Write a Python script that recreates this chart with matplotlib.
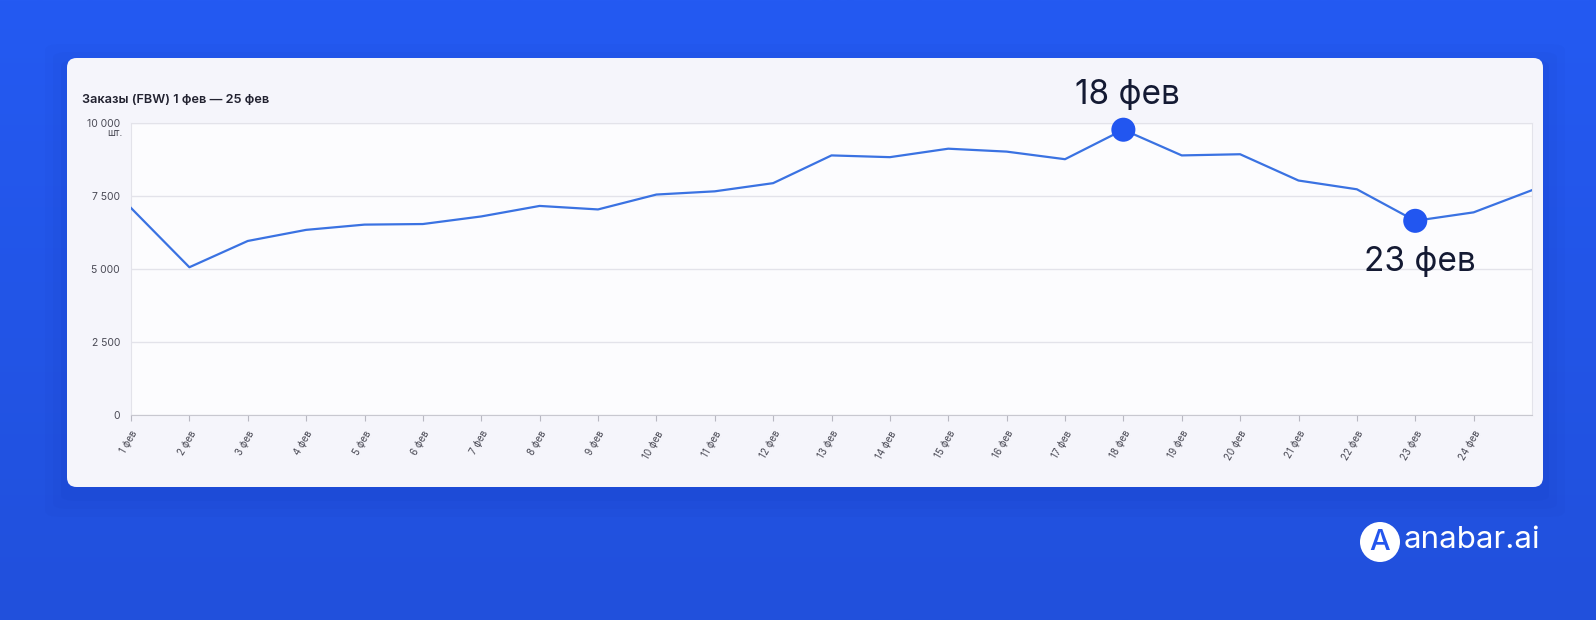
import numpy as np
import matplotlib
matplotlib.use("Agg")
import matplotlib.pyplot as plt
from matplotlib.patches import FancyBboxPatch, Ellipse
from matplotlib.colors import LinearSegmentedColormap

plt.rcParams['font.family'] = ['Inter', 'DejaVu Sans']

# ---- data ----
days = [f"{d} фев" for d in range(1, 26)]
orders = [7090, 5060, 5960, 6340, 6520, 6540, 6800, 7160, 7040, 7550,
          7660, 7940, 8890, 8830, 9120, 9020, 8760, 9770, 8890, 8930,
          8030, 7730, 6650, 6940, 7700]
yticks = [0, 2500, 5000, 7500, 10000]
ytick_labels = ["0", "2 500", "5 000", "7 500", "10 000"]
title = "Заказы (FBW) 1 фев — 25 фев"
highlights = ["18 фев", "23 фев"]

W, H = 1596, 620
fig = plt.figure(figsize=(W / 100, H / 100), dpi=100)

# background gradient
bg = fig.add_axes([0, 0, 1, 1])
bg.set_axis_off()
grad = np.linspace(0, 1, 256).reshape(-1, 1)
cmap = LinearSegmentedColormap.from_list("bg", ["#245AF2", "#2150DC"])
bg.imshow(grad, aspect='auto', cmap=cmap, extent=[0, 1, 0, 1], origin='upper')
bg.set_xlim(0, 1)
bg.set_ylim(0, 1)


def fx(px):
    return px / W


def fy(py):
    return 1 - py / H


# card shadow + card
for i, a in enumerate([0.05, 0.04, 0.03]):
    pad = 6 + i * 8
    sh = FancyBboxPatch((fx(67 - pad), fy(487 + pad + 8)), fx(1543 - 67 + 2 * pad), (487 - 58 + 2 * pad) / H,
                        boxstyle="round,pad=0,rounding_size=0.01", transform=bg.transAxes,
                        facecolor="#0A2A9A", edgecolor="none", alpha=a, zorder=1)
    bg.add_patch(sh)
card = FancyBboxPatch((fx(67), fy(487)), fx(1543 - 67), (487 - 58) / H,
                      boxstyle="round,pad=0,rounding_size=0.006", transform=bg.transAxes,
                      facecolor="#F5F5FB", edgecolor="none", zorder=2, mutation_aspect=W / H)
bg.add_patch(card)

# title
fig.text(fx(82), fy(100), title, fontsize=9.2, fontweight='semibold', color="#222230",
         ha='left', va='center')

# logo
bg.add_patch(Ellipse((fx(1380), fy(542)), width=40 / W, height=40 / H, transform=bg.transAxes,
                     facecolor='white', edgecolor='none', zorder=3))
fig.text(fx(1380), fy(543), "A", fontsize=21, color="#2456EE", ha='center', va='center',
         fontweight='medium')
fig.text(fx(1404), fy(540), "anabar.ai", fontsize=22.5, color='white', ha='left', va='center',
         fontweight='normal')

# main axes
L, R, T, B = 131, 1532, 123, 415
ax = fig.add_axes([fx(L), 1 - B / H, (R - L) / W, (B - T) / H])
ax.set_facecolor("#FCFCFE")
x = np.arange(len(days))
ax.plot(x, orders, color="#3A72E2", lw=1.6, zorder=3, solid_joinstyle='round')
ax.set_xlim(0, len(days) - 1)
ax.set_ylim(0, 10000)
ax.set_yticks(yticks)
ax.set_yticklabels(ytick_labels)
ax.yaxis.grid(True, color="#E3E3EA", lw=1)
ax.set_axisbelow(True)
ax.tick_params(axis='y', length=0, labelsize=7.5, labelcolor="#4A4A55", pad=8)
ax.set_xticks(x[:-1])
ax.set_xticklabels(days[:-1], rotation=60, ha='right', rotation_mode='anchor')
ax.tick_params(axis='x', length=4, color="#B8B8C2", labelsize=7, labelcolor="#4A4A55", pad=6)
for s in ['left', 'right', 'top']:
    ax.spines[s].set_color("#E3E3EA")
ax.spines['bottom'].set_color("#C8C8D0")
fig.text(fx(123), fy(133), "шт.", fontsize=7, color="#4A4A55", ha='right', va='center')

# highlighted points
for lab, dy in zip(highlights, [25, -30]):
    i = days.index(lab)
    ax.scatter([x[i]], [orders[i]], s=300, color="#2256F0", zorder=5, edgecolors='none', clip_on=False)
    ax.annotate(lab, (x[i], orders[i]), xytext=(3, dy), textcoords='offset points',
                ha='center', va='center', fontsize=24, color="#141A33", zorder=6,
                annotation_clip=False)

fig.savefig("out.png", dpi=100)
